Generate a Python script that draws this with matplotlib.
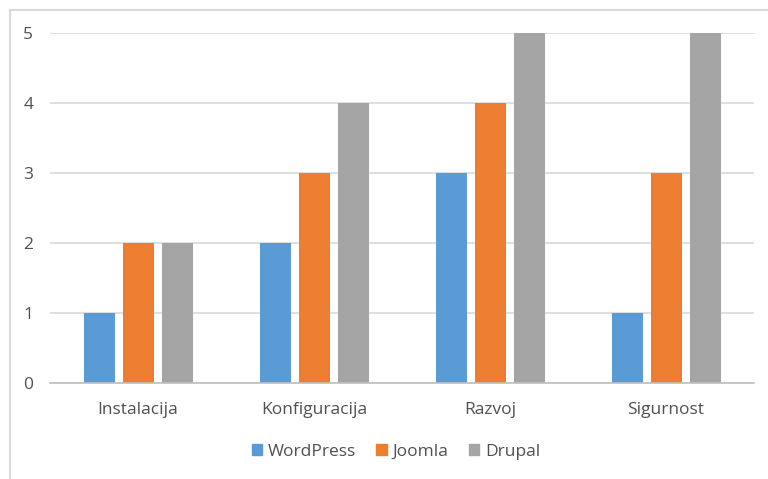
import matplotlib.pyplot as plt
import numpy as np
from matplotlib.lines import Line2D

categories = ["Instalacija", "Konfiguracija", "Razvoj", "Sigurnost"]
series_names = ["WordPress", "Joomla", "Drupal"]
wordpress = [1, 2, 3, 1]
joomla = [2, 3, 4, 3]
drupal = [2, 4, 5, 5]

colors = ["#5b9bd5", "#ed7d31", "#a5a5a5"]
text_color = "#505050"

plt.rcParams["font.family"] = ["Open Sans", "DejaVu Sans"]

W, H = 768, 479
fig = plt.figure(figsize=(W / 100, H / 100), dpi=100)
ax = fig.add_axes([50 / W, (H - 383) / H, (754 - 50) / W, (383 - 33) / H])

x = np.arange(len(categories))
bw = 31 / 176
step = 39 / 176
for i, (name, vals) in enumerate(zip(series_names, [wordpress, joomla, drupal])):
    ax.bar(x + (i - 1) * step, vals, width=bw, color=colors[i], label=name, zorder=3)

ax.set_xlim(-0.5, len(categories) - 0.5)
ax.set_ylim(0, 5)
ax.set_yticks(range(0, 6))
ax.set_xticks(x)
ax.set_xticklabels(categories)
ax.grid(axis="y", color="#d9d9d9", linewidth=1.2, zorder=0)
for s in ["top", "right", "left"]:
    ax.spines[s].set_visible(False)
ax.spines["bottom"].set_color("#bfbfbf")
ax.spines["bottom"].set_linewidth(1.2)
ax.spines["bottom"].set_zorder(4)
ax.tick_params(axis="both", length=0, labelsize=12.5, colors=text_color)
ax.tick_params(axis="y", pad=12)
ax.tick_params(axis="x", pad=14)

handles = [plt.Rectangle((0, 0), 1, 1, color=c) for c in colors]
fig.legend(handles, series_names, loc="center", bbox_to_anchor=(396 / W, (H - 452) / H),
           ncol=3, frameon=False, fontsize=12.5, handlelength=0.6, handleheight=0.6,
           handletextpad=0.35, columnspacing=1.15, labelcolor=text_color)

# chart frame (left and top edges visible)
fig.add_artist(Line2D([10 / W, 10 / W], [0, (H - 9.5) / H], color="#d9d9d9", linewidth=1.5))
fig.add_artist(Line2D([10 / W, 1], [(H - 9.5) / H, (H - 9.5) / H], color="#d9d9d9", linewidth=1.5))

fig.savefig("out.png", dpi=100)
